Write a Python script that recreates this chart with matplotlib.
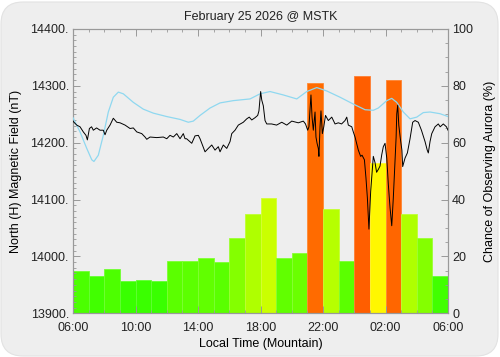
import numpy as np
import matplotlib.pyplot as plt
import matplotlib.colors as mcolors
from matplotlib.patches import FancyBboxPatch
from matplotlib.transforms import IdentityTransform
from matplotlib.ticker import MultipleLocator, FuncFormatter

plt.rcParams['font.family'] = ['Liberation Sans', 'DejaVu Sans']

title = "February 25 2026 @ MSTK"

# chance of aurora (%), one bar per hour starting at 06:00
bar_start = np.arange(24)
aurora_pct = [15.0, 13.0, 15.5, 11.5, 11.6, 11.4, 18.4, 18.5, 19.5, 18.2, 26.6, 35.1,
              40.6, 19.5, 21.3, 81.0, 36.7, 18.4, 83.6, 52.8, 82.0, 35.1, 26.5, 13.1]

# measured H component: (hours after 06:00, nT)
mag_points = [
    (0.00, 14238), (0.06, 14236), (0.24, 14231), (0.45, 14228), (0.66, 14219), (0.83, 14213),
    (0.92, 14205), (1.05, 14225), (1.19, 14228), (1.30, 14222), (1.51, 14226), (1.73, 14222),
    (1.94, 14222), (2.05, 14214), (2.16, 14222), (2.37, 14231), (2.58, 14243), (2.80, 14236),
    (3.01, 14235), (3.33, 14231), (3.65, 14225), (3.86, 14226), (4.08, 14219), (4.40, 14216),
    (4.61, 14210), (4.72, 14206), (4.93, 14210), (5.36, 14209), (5.78, 14210), (6.00, 14207),
    (6.21, 14213), (6.42, 14210), (6.64, 14216), (6.85, 14207), (7.06, 14216), (7.17, 14207),
    (7.27, 14207), (7.60, 14199), (7.81, 14212), (8.02, 14213), (8.13, 14207), (8.24, 14199),
    (8.45, 14184), (8.66, 14190), (8.88, 14196), (9.09, 14187), (9.30, 14193), (9.41, 14184),
    (9.62, 14196), (9.84, 14190), (10.05, 14202), (10.16, 14216), (10.37, 14222), (10.58, 14231),
    (10.90, 14236), (11.12, 14242), (11.28, 14245), (11.44, 14240), (11.65, 14244), (11.82, 14248),
    (11.90, 14256), (12.01, 14290), (12.08, 14275), (12.18, 14265), (12.29, 14239), (12.40, 14233),
    (12.71, 14233), (13.03, 14231), (13.36, 14236), (13.68, 14231), (14.00, 14238), (14.42, 14235),
    (14.74, 14238), (14.88, 14233), (15.02, 14222), (15.10, 14228), (15.23, 14284), (15.30, 14245),
    (15.38, 14222), (15.49, 14254), (15.55, 14210), (15.62, 14199), (15.70, 14190), (15.74, 14176),
    (15.81, 14228), (15.87, 14256), (15.96, 14216), (16.05, 14228), (16.16, 14248), (16.34, 14239),
    (16.56, 14245), (16.77, 14233), (16.98, 14235), (17.19, 14233), (17.41, 14239), (17.52, 14245),
    (17.62, 14231), (17.84, 14228), (17.94, 14219), (18.05, 14210), (18.15, 14199), (18.26, 14187),
    (18.41, 14176), (18.50, 14178), (18.65, 14170), (18.75, 14138), (18.84, 14103), (18.94, 14048),
    (19.05, 14114), (19.22, 14176), (19.33, 14165), (19.43, 14148), (19.54, 14153), (19.65, 14159),
    (19.76, 14179), (19.86, 14193), (19.97, 14199), (20.08, 14173), (20.18, 14127), (20.29, 14086),
    (20.40, 14054), (20.50, 14103), (20.61, 14167), (20.68, 14210), (20.72, 14251), (20.78, 14266),
    (20.85, 14231), (20.95, 14207), (21.05, 14187), (21.10, 14158), (21.25, 14173), (21.40, 14182),
    (21.52, 14199), (21.57, 14207), (21.74, 14236), (21.89, 14239), (22.10, 14236), (22.30, 14222),
    (22.53, 14202), (22.67, 14187), (22.74, 14182), (22.85, 14202), (22.96, 14216), (23.17, 14228),
    (23.38, 14233), (23.50, 14228), (23.70, 14233), (23.90, 14228), (24.00, 14222),
]

# quiet-day reference curve: (hours after 06:00, nT)
quiet_points = [
    (0.00, 14244), (0.45, 14219), (0.88, 14190), (1.20, 14170), (1.34, 14167), (1.62, 14178),
    (1.94, 14213), (2.26, 14254), (2.58, 14280), (2.90, 14289), (3.22, 14286), (3.86, 14271),
    (4.50, 14259), (5.14, 14252), (6.00, 14246), (6.85, 14241), (7.38, 14236), (7.70, 14238),
    (8.13, 14248), (8.77, 14261), (9.41, 14270), (10.26, 14274), (11.33, 14277), (11.97, 14286),
    (12.61, 14290), (13.46, 14284), (14.32, 14277), (14.96, 14290), (15.60, 14297), (16.24, 14291),
    (17.09, 14280), (17.94, 14268), (18.69, 14258), (19.22, 14257), (19.54, 14261), (20.08, 14274),
    (20.40, 14278), (20.72, 14271), (21.14, 14254), (21.57, 14242), (22.00, 14245), (22.42, 14253),
    (22.85, 14254), (23.49, 14251), (24.00, 14246),
]

x_ticks = [0, 4, 8, 12, 16, 20, 24]
x_labels = ["06:00", "10:00", "14:00", "18:00", "22:00", "02:00", "06:00"]

mag_t, mag_h = zip(*mag_points)
quiet_t, quiet_h = zip(*quiet_points)

fig = plt.figure(figsize=(5, 3.57), dpi=100)
fig.patch.set_facecolor('white')
bg = FancyBboxPatch((1, 1), 497, 354, boxstyle="round,pad=0,rounding_size=22",
                    transform=IdentityTransform(), facecolor='#eeeeee',
                    edgecolor='#e2e2e2', linewidth=0.8, zorder=-5)
fig.patches.append(bg)

ax = fig.add_axes([0.146, 0.1224, 0.75, 0.7964])
ax.set_facecolor('#eeeeee')

# bar colour goes from green through yellow to orange as the chance rises
colors = []
edges = []
for v in aurora_pct:
    c = mcolors.hsv_to_rgb(((120 - 1.17 * v) / 360.0, 1.0, 1.0))
    colors.append(c)
    edges.append(0.8 * c + 0.2)
ax.bar(bar_start, aurora_pct, width=1.0, align='edge', color=colors,
       edgecolor=edges, linewidth=0.6, zorder=1)
ax.set_ylim(0, 100)
ax.set_xlim(0, 24)
ax.set_xticks(x_ticks)
ax.set_xticklabels(x_labels)
ax.xaxis.set_minor_locator(MultipleLocator(1))
ax.set_xlabel("Local Time (Mountain)", fontsize=9, labelpad=3)

ax2 = ax.twinx()
# twinx puts the parent's ticks on the left, so swap sides afterwards
ax.yaxis.tick_right()
ax.yaxis.set_label_position('right')
ax.yaxis.set_major_locator(MultipleLocator(20))
ax.yaxis.set_minor_locator(MultipleLocator(5))
ax.set_ylabel("Chance of Observing Aurora (%)", fontsize=9, labelpad=8, rotation=90)

ax2.yaxis.tick_left()
ax2.yaxis.set_label_position('left')
ax2.plot(quiet_t, quiet_h, color='#8fd8f0', linewidth=0.9, zorder=3)
ax2.plot(mag_t, mag_h, color='black', linewidth=0.7, zorder=4)
ax2.set_ylim(13900, 14400)
ax2.set_xlim(0, 24)
ax2.yaxis.set_major_locator(MultipleLocator(100))
ax2.yaxis.set_minor_locator(MultipleLocator(10))
ax2.yaxis.set_major_formatter(FuncFormatter(lambda v, p: f"{v:.0f}."))
ax2.set_ylabel("North (H) Magnetic Field (nT)", fontsize=9, labelpad=6)

for a in (ax, ax2):
    for s in a.spines.values():
        s.set_color('#999999')
        s.set_linewidth(0.8)
    a.tick_params(which='both', direction='in', color='#999999', labelsize=9,
                  labelcolor='#222222', top=True)
    a.tick_params(which='major', length=5, width=0.7)
    a.tick_params(which='minor', length=2.5, width=0.6)
ax.tick_params(axis='y', which='both', left=False, right=True,
               labelleft=False, labelright=True, pad=3)
ax2.tick_params(axis='y', which='both', left=True, right=False,
                labelleft=True, labelright=False, pad=3)
ax.tick_params(axis='x', pad=6)

fig.text(0.522, 0.953, title, ha='center', va='center', fontsize=9, color='#222222')

fig.savefig("out.png", dpi=100, facecolor=fig.get_facecolor())
